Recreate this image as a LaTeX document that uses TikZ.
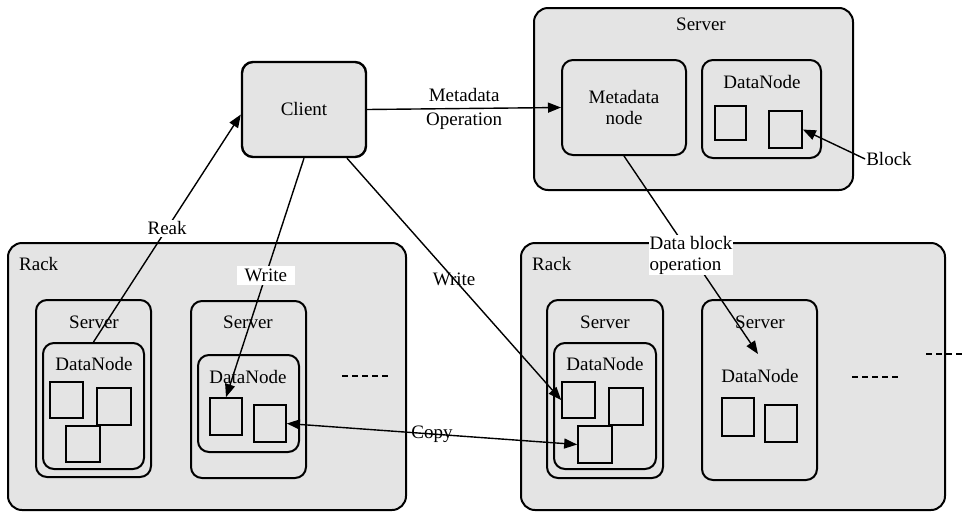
\documentclass[tikz,border=0pt]{standalone}
\usepackage{fontspec}
\setmainfont{Liberation Serif}
\usetikzlibrary{arrows.meta}
\definecolor{boxgray}{RGB}{228,228,228}
\begin{document}
\begin{tikzpicture}[x=1pt,y=-1pt,
  font=\fontsize{19}{21}\selectfont,
  frame/.style={draw, line width=2pt, fill=boxgray, rounded corners=14pt, inner sep=0pt},
  inbox/.style={draw, line width=2pt, fill=boxgray, rounded corners=11pt, inner sep=0pt},
  blk/.style={draw, line width=1.7pt, fill=boxgray, inner sep=0pt},
  lbl/.style={inner sep=1pt},
  conn/.style={line width=1.4pt},
  arr/.style={conn, -{Triangle[length=13pt,width=10pt]}},
  darr/.style={conn, {Triangle[length=13pt,width=10pt]}-{Triangle[length=13pt,width=10pt]}},
  dots/.style={line width=1.4pt, dash pattern=on 6pt off 4pt}
]
\useasboundingbox (0,0) rectangle (964,512);

% ---- client ----
\node[frame, rounded corners=11pt, line width=2.4pt, minimum width=124pt, minimum height=95pt] (client) at (304,109.5) {};
\node[lbl] (clientlab) at (304,109) {Client};

% ---- metadata server ----
\node[frame, minimum width=319pt, minimum height=182pt] (topsrv) at (693.5,99) {};
\node[lbl] (topsrvlab) at (701,24) {Server};
\node[inbox, minimum width=124pt, minimum height=95pt] (meta) at (624,107.5) {};
\node[lbl, align=center] (metalab) at (624,107) {Metadata\\node};
\node[inbox, minimum width=119pt, minimum height=98pt] (dnT) at (761.5,109) {};
\node[lbl] (dnTlab) at (762,82) {DataNode};
\node[blk, minimum width=31pt, minimum height=34pt] (sqT1) at (730.5,123) {};
\node[blk, minimum width=33pt, minimum height=37pt] (sqT2) at (785.5,129.5) {};
\node[lbl] (blocklab) at (889,159) {Block};

% ---- left rack ----
\node[frame, minimum width=398pt, minimum height=267pt] (rackL) at (207,376.5) {};
\node[lbl, anchor=west] (rackLlab) at (18,264) {Rack};
\node[inbox, minimum width=115pt, minimum height=177pt] (srv1) at (93.5,388.5) {};
\node[lbl] (srv1lab) at (94,322) {Server};
\node[inbox, minimum width=101pt, minimum height=126pt] (dn1) at (93.5,406) {};
\node[lbl] (dn1lab) at (94,364) {DataNode};
\node[blk, minimum width=33pt, minimum height=36pt] (sq1a) at (66.5,400) {};
\node[blk, minimum width=34pt, minimum height=37pt] (sq1b) at (114,406.5) {};
\node[blk, minimum width=34pt, minimum height=36pt] (sq1c) at (83,444) {};
\node[inbox, minimum width=115pt, minimum height=177pt] (srv2) at (248.5,389.5) {};
\node[lbl] (srv2lab) at (248,322) {Server};
\node[inbox, minimum width=101pt, minimum height=97pt] (dn2) at (248.5,403.5) {};
\node[lbl] (dn2lab) at (248,377) {DataNode};
\node[blk, minimum width=32pt, minimum height=37pt] (sq2a) at (226,416.5) {};
\node[blk, minimum width=32pt, minimum height=37pt] (sq2b) at (270,423.5) {};
\draw[dots] (342,376) -- (388,376);

% ---- right rack ----
\node[frame, minimum width=424pt, minimum height=267pt] (rackR) at (733,376.5) {};
\node[lbl, anchor=west] (rackRlab) at (531,264) {Rack};
\node[inbox, minimum width=116pt, minimum height=178pt] (srv3) at (605,389) {};
\node[lbl] (srv3lab) at (605,322) {Server};
\node[inbox, minimum width=102pt, minimum height=126pt] (dn3) at (605,406) {};
\node[lbl] (dn3lab) at (605,364) {DataNode};
\node[blk, minimum width=33pt, minimum height=36pt] (sq3a) at (578.5,400) {};
\node[blk, minimum width=34pt, minimum height=37pt] (sq3b) at (626,406.5) {};
\node[blk, minimum width=34pt, minimum height=37pt] (sq3c) at (595,444.5) {};
\node[inbox, minimum width=115pt, minimum height=180pt] (srv4) at (759.5,390) {};
\node[lbl] (srv4lab) at (760,322) {Server};
\node[lbl] (dn4lab) at (760,376) {DataNode};
\node[blk, minimum width=32pt, minimum height=38pt] (sq4a) at (738,417) {};
\node[blk, minimum width=32pt, minimum height=37pt] (sq4b) at (781,423.5) {};
\draw[dots] (852,377) -- (898,377);
\draw[dots] (926,354) -- (964,354);

% ---- connectors ----
\coordinate (dbend) at (758,354);

\draw[arr] (client.east) -- (meta.west)
  node[midway, lbl, align=center] {Metadata\\[3pt]Operation};
\draw[arr] (dn1.north) -- ([yshift=-5pt]client.west)
  node[pos=0.5, fill=white, inner sep=2pt] {Reak};
\draw[arr] (client.south) -- (sq2a.north)
  node[pos=0.49, fill=white, inner xsep=8pt, inner ysep=3pt] {Write};
\draw[arr] (client) -- (sq3a.west)
  node[pos=0.5, lbl] {Write};
\draw[arr] (meta.south) -- (dbend)
  node[pos=0.5, fill=white, inner sep=1pt, align=left] {Data block\\operation};
\draw[arr] (blocklab.west) -- (sqT2.east);
\draw[darr] (sq2b.east) -- (sq3c.west)
  node[pos=0.5, lbl] {Copy};
\end{tikzpicture}
\end{document}
